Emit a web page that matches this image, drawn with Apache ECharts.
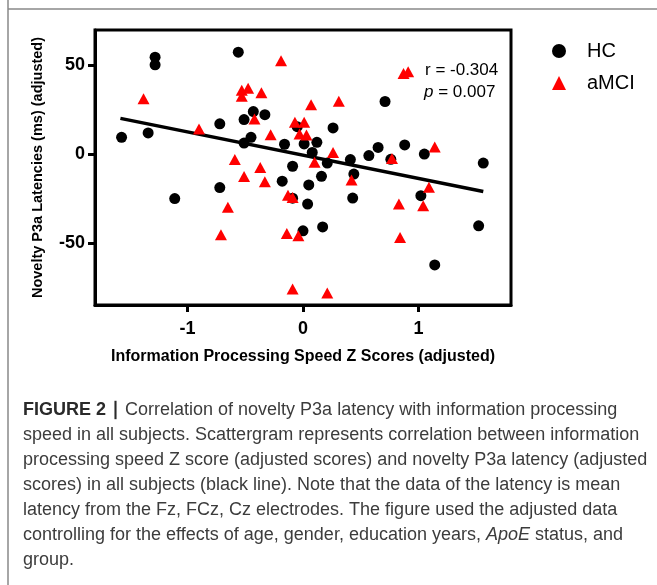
<!DOCTYPE html>
<html>
<head>
<meta charset="utf-8">
<script src="https://cdn.jsdelivr.net/npm/echarts@6/dist/echarts.min.js"></script>
<style>
  html, body { margin: 0; padding: 0; background: #fff; }
  #chart { width: 657px; height: 585px; }
</style>
</head>
<body>
<div id="chart"></div>
<script>
// HC 组 (x: Z score, y: latency)
const hcPoints = [
    [-1.57, 9.5], [-1.34, 12.0], [-1.28, 54.7], [-1.28, 50.4], [-1.11, -25.0],
    [-0.72, 17.1], [-0.72, -18.8], [-0.56, 57.5], [-0.51, 19.5], [-0.43, 24.0],
    [-0.33, 22.3], [-0.45, 9.5], [-0.51, 6.3], [-0.16, 5.6], [-0.09, -6.8],
    [-0.18, -15.2], [-0.09, -24.8], [-0.05, 15.5], [0.01, 5.8], [0.12, 6.7],
    [0.08, 1.0], [0.26, 14.8], [0.21, -5.0], [0.41, -3.0], [0.57, -0.8],
    [0.65, 3.8], [0.71, 29.7], [0.88, 5.2], [1.05, 0.1], [1.56, -5.0],
    [0.76, -2.9], [0.16, -12.5], [0.05, -17.3], [0.44, -11.2], [0.04, -28.1],
    [0.43, -24.7], [1.02, -23.4], [0.0, -43.2], [0.17, -41.0], [1.52, -40.4],
    [1.14, -62.4]
];

// aMCI 组
const amciPoints = [
    [-1.38, 31.2], [-0.90, 14.2], [-0.53, 36.0], [-0.475, 37.2], [-0.53, 32.7],
    [-0.36, 34.6], [-0.19, 52.6], [-0.42, 19.9], [-0.28, 11.0], [-0.59, -3.0],
    [-0.37, -7.5], [0.07, 27.9], [0.31, 29.8], [-0.07, 18.0], [0.01, 18.0],
    [-0.03, 11.4], [0.03, 10.8], [0.26, 1.0], [0.10, -4.6], [0.77, -2.4],
    [1.14, 4.1], [0.87, 45.5], [0.91, 46.4], [1.09, -18.6], [0.42, -14.6],
    [0.83, -28.1], [1.04, -29.1], [-0.09, -24.4], [-0.04, -46.0], [0.84, -47.0],
    [-0.09, -76.0], [0.21, -78.2], [-0.51, -12.6], [-0.33, -15.5], [-0.13, -23.2],
    [-0.65, -29.9], [-0.71, -45.4], [-0.14, -44.7]
];

// 回归线两端
const fitLine = [[-1.58, 20.2], [1.56, -21.0]];

const xTicks = [-1, 0, 1];
const yTicks = [-50, 0, 50];

const captionLines = [
    [{t: 'FIGURE 2 \u2223 ', s: 'b'}, {t: 'Correlation of novelty P3a latency with information processing', s: 'n'}],
    [{t: 'speed in all subjects. Scattergram represents correlation between information', s: 'n'}],
    [{t: 'processing speed Z score (adjusted scores) and novelty P3a latency (adjusted', s: 'n'}],
    [{t: 'scores) in all subjects (black line). Note that the data of the latency is mean', s: 'n'}],
    [{t: 'latency from the Fz, FCz, Cz electrodes. The figure used the adjusted data', s: 'n'}],
    [{t: 'controlling for the effects of age, gender, education years, ', s: 'n'}, {t: 'ApoE', s: 'i'}, {t: ' status, and', s: 'n'}],
    [{t: 'group.', s: 'n'}]
];

const chart = echarts.init(document.getElementById('chart'));

const captionGraphics = captionLines.map((parts, i) => ({
    type: 'text',
    left: 23,
    top: 401 + i * 25,
    style: {
        text: parts.map(p => `{${p.s}|${p.t}}`).join(''),
        rich: {
            n: {fontFamily: 'Liberation Sans', fontSize: 18, fill: '#3c3c3c'},
            b: {fontFamily: 'Liberation Sans', fontSize: 18, fontWeight: 'bold', fill: '#2a2a2a'},
            i: {fontFamily: 'Liberation Sans', fontSize: 18, fontStyle: 'italic', fill: '#3c3c3c'}
        }
    }
}));

const option = {
    animation: false,
    grid: {
        left: 95, top: 30, right: 146, bottom: 280,
        show: true, borderColor: '#000', borderWidth: 3
    },
    legend: {
        orient: 'vertical',
        left: 547, top: 36,
        itemWidth: 14, itemHeight: 14, itemGap: 12,
        textStyle: {fontFamily: 'Liberation Sans', fontSize: 20, color: '#000', padding: [0, 0, 0, 16]},
        data: ['HC', 'aMCI']
    },
    xAxis: {
        type: 'value', min: -1.8, max: 1.8,
        splitLine: {show: false},
        axisLine: {show: true, onZero: false, lineStyle: {color: '#000', width: 3}},
        axisTick: {show: true, customValues: xTicks, length: 7, lineStyle: {color: '#000', width: 3}},
        axisLabel: {customValues: xTicks, margin: 15, fontFamily: 'Liberation Sans', fontSize: 18, fontWeight: 'bold', color: '#000'},
        name: 'Information Processing Speed Z Scores (adjusted)',
        nameLocation: 'middle', nameGap: 44,
        nameTextStyle: {fontFamily: 'Liberation Sans', fontSize: 16, fontWeight: 'bold', color: '#000'}
    },
    yAxis: {
        type: 'value', min: -85, max: 70,
        splitLine: {show: false},
        axisLine: {show: true, onZero: false, lineStyle: {color: '#000', width: 3}},
        axisTick: {show: true, customValues: yTicks, length: 7, lineStyle: {color: '#000', width: 3}},
        axisLabel: {customValues: yTicks, margin: 10, fontFamily: 'Liberation Sans', fontSize: 18, fontWeight: 'bold', color: '#000'},
        name: 'Novelty P3a Latencies (ms) (adjusted)',
        nameLocation: 'middle', nameGap: 50,
        nameTextStyle: {fontFamily: 'Liberation Sans', fontSize: 14.5, fontWeight: 'bold', color: '#000'}
    },
    series: [
        {
            name: 'fit', type: 'line', data: fitLine, symbol: 'none', z: 1,
            lineStyle: {color: '#000', width: 3.5}
        },
        {
            name: 'HC', type: 'scatter', data: hcPoints, symbol: 'circle', symbolSize: 11, z: 3,
            itemStyle: {color: '#000', opacity: 1}
        },
        {
            name: 'aMCI', type: 'scatter', data: amciPoints, symbol: 'triangle', symbolSize: [12, 11], z: 4,
            itemStyle: {color: '#ff0000', opacity: 1}
        }
    ],
    graphic: [
        {type: 'line', shape: {x1: 8, y1: 0, x2: 8, y2: 585}, style: {stroke: '#888', lineWidth: 1.5}},
        {type: 'line', shape: {x1: 8, y1: 9, x2: 657, y2: 9}, style: {stroke: '#888', lineWidth: 1.5}},
        {
            type: 'text', left: 425, top: 62,
            style: {text: 'r = -0.304', fontFamily: 'Liberation Sans', fontSize: 17, fill: '#000'}
        },
        {
            type: 'text', left: 424, top: 84,
            style: {
                text: '{i|p}{n| = 0.007}',
                rich: {
                    i: {fontFamily: 'Liberation Sans', fontSize: 17, fontStyle: 'italic', fill: '#000'},
                    n: {fontFamily: 'Liberation Sans', fontSize: 17, fill: '#000'}
                }
            }
        }
    ].concat(captionGraphics)
};

chart.setOption(option);
</script>
</body>
</html>
